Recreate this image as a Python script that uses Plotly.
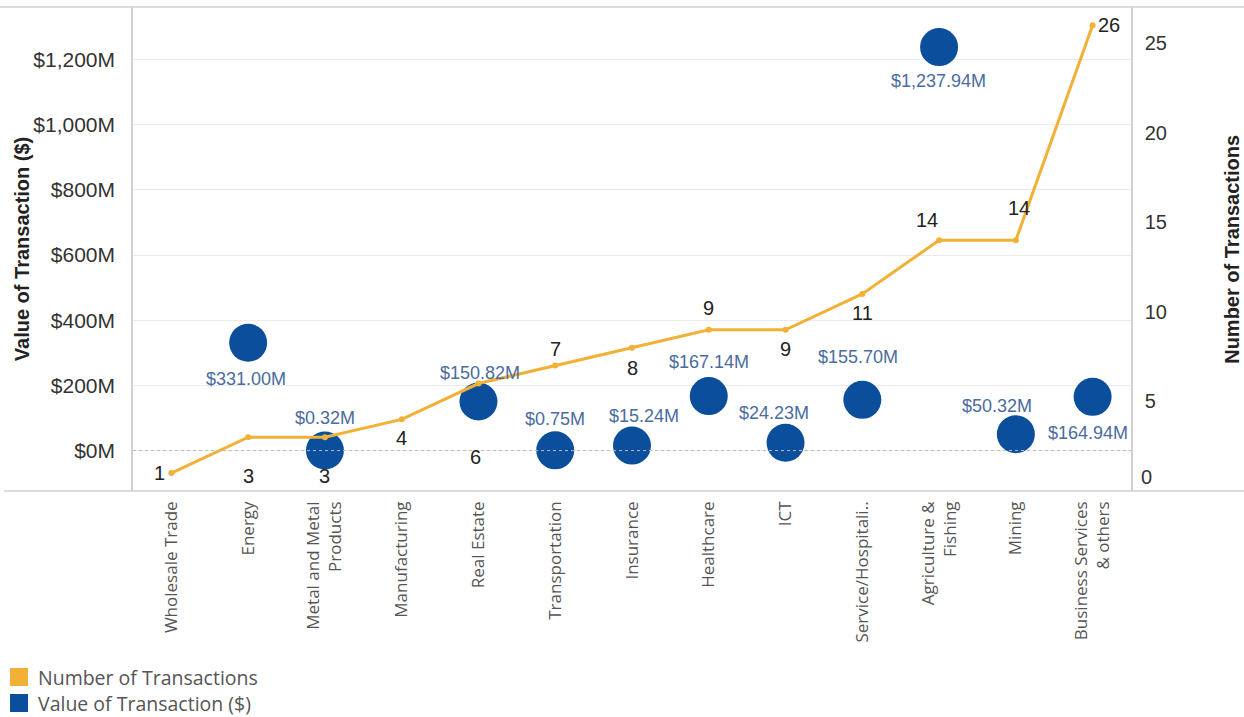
import plotly.graph_objects as go

# Industry sectors along the x axis
categories = [
    "Wholesale Trade", "Energy", "Metal and Metal<br>Products", "Manufacturing",
    "Real Estate", "Transportation", "Insurance", "Healthcare", "ICT",
    "Service/Hospitali..", "Agriculture &<br>Fishing", "Mining",
    "Business Services<br>& others",
]
# Number of transactions per sector (right axis)
num_transactions = [1, 3, 3, 4, 6, 7, 8, 9, 9, 11, 14, 14, 26]
# Value of transactions per sector in $M (left axis); None = no value reported
value_musd = [None, 331.00, 0.32, None, 150.82, 0.75, 15.24, 167.14, 24.23,
              155.70, 1237.94, 50.32, 164.94]

left_ticks = [0, 200, 400, 600, 800, 1000, 1200]
left_tick_text = ["$0M", "$200M", "$400M", "$600M", "$800M", "$1,000M", "$1,200M"]
right_ticks = [5, 10, 15, 20, 25]

series_names = ["Number of Transactions", "Value of Transaction ($)"]

# Label placement offsets (px) for the count labels and value labels
count_label_shift = [(-12, 0), (0, -39), (0, -39), (0, -19), (-3, -73), (0, 17),
                     (0, -20), (0, 22), (0, -19), (0, -19), (-12, 20), (3, 32),
                     (16, 0)]
value_label_shift = [None, (-2, -36), (0, 32), None, (2, 28), (0, 31), (12, 30),
                     (0, 34), (-12, 30), (-4, 43), (-1, -34), (-19, 28), (-5, -36)]

GOLD = "#F2B136"
BLUE = "#0B4F9C"
LABEL_BLUE = "#4A6C9E"
GRID = "#EBEBEB"
FRAME = "#D0D0D0"
NUM_FONT = "Liberation Sans, Arial"

fig = go.Figure()

# Value bubbles (left axis)
fig.add_trace(go.Scatter(
    x=categories, y=value_musd, mode="markers", yaxis="y",
    name=series_names[1],
    marker=dict(size=38, color=BLUE, line=dict(width=0)),
    showlegend=False, hoverinfo="x+y",
))

# Transaction count line (right axis)
fig.add_trace(go.Scatter(
    x=categories, y=num_transactions, mode="lines+markers", yaxis="y2",
    name=series_names[0],
    line=dict(color=GOLD, width=3),
    marker=dict(size=6, color=GOLD),
    showlegend=False, hoverinfo="x+y",
))

annotations = []
for cat, n, (dx, dy) in zip(categories, num_transactions, count_label_shift):
    annotations.append(dict(
        x=cat, y=n, xref="x", yref="y2", text=str(n), showarrow=False,
        xshift=dx, yshift=dy,
        font=dict(family=NUM_FONT, size=20, color="#222222"),
    ))
for cat, v, shift in zip(categories, value_musd, value_label_shift):
    if v is None:
        continue
    dx, dy = shift
    annotations.append(dict(
        x=cat, y=v, xref="x", yref="y", text=f"${v:,.2f}M", showarrow=False,
        xshift=dx, yshift=dy,
        font=dict(family=NUM_FONT, size=18, color=LABEL_BLUE),
    ))

# Baseline tick of the right axis, nudged up to stay inside the frame
annotations.append(dict(
    x=1, y=0, xref="paper", yref="y2", text="0", showarrow=False,
    xanchor="left", yanchor="middle", xshift=8, yshift=14,
    font=dict(family=NUM_FONT, size=20, color="#333333"),
))

# Axis titles
annotations.append(dict(
    x=-0.111, y=0.5, xref="paper", yref="paper", text="<b>Value of Transaction ($)</b>",
    textangle=-90, showarrow=False, xanchor="center", yanchor="middle",
    font=dict(family=NUM_FONT, size=20, color="#222222"),
))
annotations.append(dict(
    x=1.101, y=0.5, xref="paper", yref="paper", text="<b>Number of Transactions</b>",
    textangle=-90, showarrow=False, xanchor="center", yanchor="middle",
    font=dict(family=NUM_FONT, size=20, color="#222222"),
))

# Legend: colour swatches with series names below the chart
plot_left, plot_w, plot_bottom, plot_h = 133, 998, 491, 484


def px_x(px):
    return (px - plot_left) / plot_w


def px_y(py):
    return (plot_bottom - py) / plot_h


shapes = []
for i, (name, col) in enumerate(zip(series_names, [GOLD, BLUE])):
    top = 668 + 26 * i
    shapes.append(dict(
        type="rect", xref="paper", yref="paper",
        x0=px_x(10), x1=px_x(28), y0=px_y(top + 18), y1=px_y(top),
        fillcolor=col, line=dict(width=0),
    ))
    annotations.append(dict(
        x=px_x(36), y=px_y(top + 9), xref="paper", yref="paper", text=name,
        showarrow=False, xanchor="left", yanchor="middle",
        font=dict(family="Open Sans", size=19.5, color="#555555"),
    ))

shapes += [
    # frame lines spanning the full width
    dict(type="line", xref="paper", yref="paper", x0=px_x(0), x1=px_x(1244), y0=1, y1=1,
         line=dict(color=FRAME, width=1.5)),
    dict(type="line", xref="paper", yref="paper", x0=px_x(4), x1=px_x(1244), y0=0, y1=0,
         line=dict(color=FRAME, width=1.5)),
    # dotted zero reference line
    dict(type="line", xref="paper", yref="y", x0=0, x1=1, y0=0, y1=0,
         line=dict(color="#BBBBBB", width=1, dash="dot")),
]

fig.update_layout(
    width=1244, height=717,
    margin=dict(l=133, r=113, t=7, b=226),
    plot_bgcolor="white", paper_bgcolor="white",
    showlegend=False,
    xaxis=dict(
        type="category", range=[-0.5, 12.5], tickangle=-90,
        showgrid=False, zeroline=False, showline=False, ticks="",
        tickfont=dict(family="Open Sans", size=17, color="#555555"),
        ticklabelstandoff=6, automargin=False,
    ),
    yaxis=dict(
        range=[-124, 1361], tickvals=left_ticks, ticktext=left_tick_text,
        showgrid=True, gridcolor=GRID, gridwidth=1,
        zeroline=False, showline=True, linecolor=FRAME, linewidth=1.5,
        ticks="", ticklabelstandoff=12, automargin=False,
        tickfont=dict(family=NUM_FONT, size=21, color="#333333"),
    ),
    yaxis2=dict(
        range=[0, 27.02], tickvals=right_ticks, overlaying="y", side="right",
        showgrid=False, zeroline=False, showline=True, linecolor=FRAME, linewidth=1.5,
        ticks="", ticklabelstandoff=8, automargin=False,
        tickfont=dict(family=NUM_FONT, size=20, color="#333333"),
    ),
    annotations=annotations,
    shapes=shapes,
    hovermode="closest",
)

fig.write_html("out.html")
